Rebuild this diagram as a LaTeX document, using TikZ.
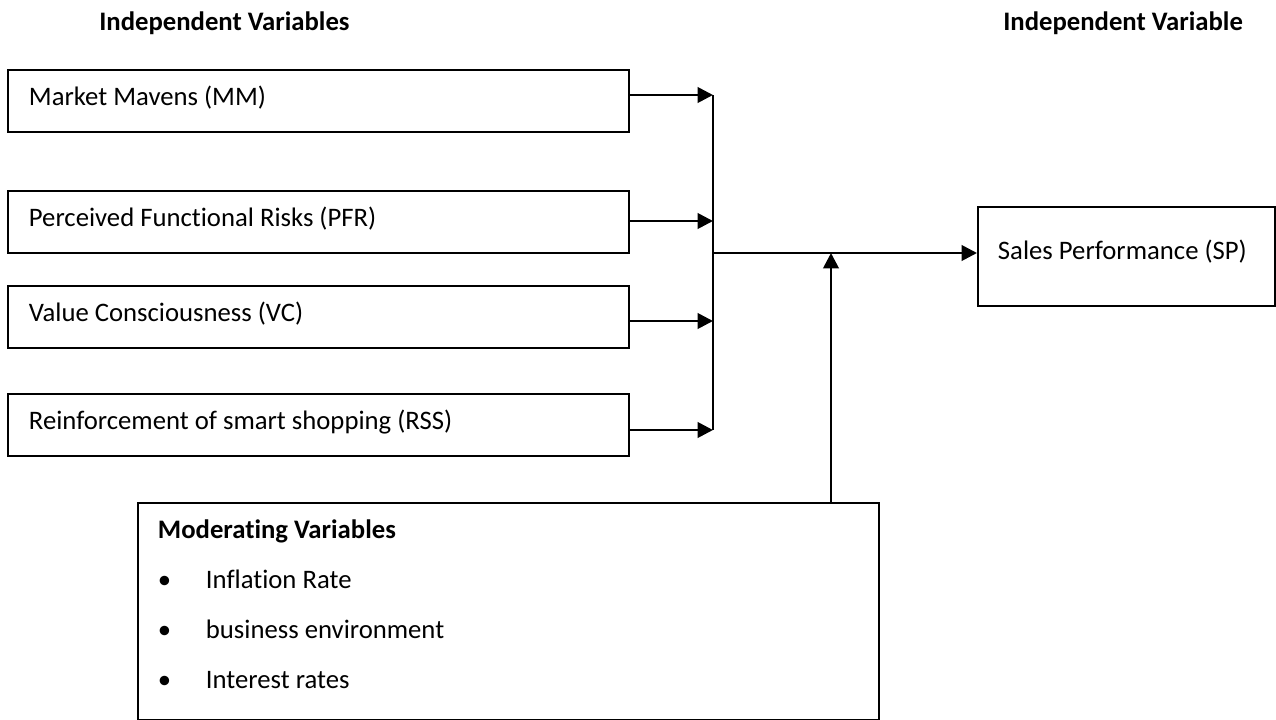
\documentclass[tikz,border=0pt]{standalone}
\usepackage{fontspec}
\setmainfont{Carlito}[Ligatures=NoCommon]
\usetikzlibrary{arrows.meta}

\tikzset{
  varbox/.style={draw, line width=1.1pt, anchor=north west, inner ysep=0pt, inner xsep=0.42cm, align=left,
    execute at begin node={\spaceskip=0pt\xspaceskip=0pt\relax}},
  ivbox/.style={varbox, text width=11.58cm, text height=0.71cm, text depth=0.54cm},
  heading/.style={anchor=base west, inner sep=0pt, font=\fontsize{15.2}{18}\selectfont\bfseries},
  link/.style={line width=1.6pt},
  arr/.style={link, -{Triangle[length=3.1mm,width=3.1mm]}},
}
\newcommand{\modbullet}{\makebox[0.96cm][l]{\textbullet}}

\begin{document}
\begin{tikzpicture}[x=0.02cm, y=-0.02cm, font=\fontsize{15.2}{18}\selectfont]
  \useasboundingbox (0,0) rectangle (1276,720);
  \node (ivhead) [heading] at (99,31) {Independent Variables};
  \node (dvhead) [heading] at (1003,31) {Independent Variable};

  \node (mm)  [ivbox] at (7,69)  {Market Mavens (MM)};
  \node (pfr) [ivbox] at (7,190) {Perceived Functional Risks (PFR)};
  \node (vc)  [ivbox] at (7,285) {Value Consciousness (VC)};
  \node (rss) [ivbox] at (7,393) {Reinforcement of smart shopping (RSS)};

  \node (sp) [varbox, inner xsep=0.4cm, text width=5.14cm, text height=1.05cm, text depth=0.93cm]
    at (977,206) {Sales Performance (SP)};

  \node (mod) [varbox, inner xsep=0.4cm, text width=14.02cm, minimum height=4.34cm,
    font=\fontsize{15.2}{28.45}\selectfont] at (137,502)
    {\textbf{Moderating Variables}\\
     \modbullet Inflation Rate\\
     \modbullet business environment\\
     \modbullet Interest rates\strut};

  \coordinate (jmm)  at (713,95);
  \coordinate (jpfr) at (713,221);
  \coordinate (jvc)  at (713,321);
  \coordinate (jrss) at (713,430);
  \coordinate (jout) at (713,253);
  \coordinate (jmod) at (831,253);

  \draw[arr] (mm.east |- jmm) -- (jmm);
  \draw[arr] (pfr.east |- jpfr) -- (jpfr);
  \draw[arr] (vc.east |- jvc) -- (jvc);
  \draw[arr] (rss.east |- jrss) -- (jrss);
  \draw[link] (jmm) -- (jrss);
  \draw[arr] (jout) -- (sp.west |- jout);
  \draw[arr] (mod.north -| jmod) -- (jmod);
\end{tikzpicture}
\end{document}
